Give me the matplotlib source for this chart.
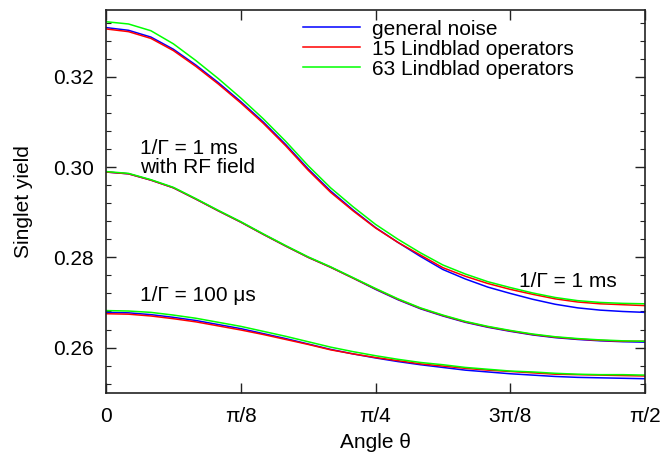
import numpy as np
import matplotlib
matplotlib.use("Agg")
import matplotlib.pyplot as plt

plt.rcParams['font.family'] = ['Liberation Sans', 'DejaVu Sans']

# Angle grid (25 samples from 0 to pi/2)
theta = np.linspace(0, np.pi / 2, 25)

# 1/Gamma = 1 ms
ms1_general = [0.3309, 0.3303, 0.3288, 0.3261, 0.3226, 0.3187, 0.3145, 0.3100, 0.3050,
               0.2996, 0.2947, 0.2905, 0.2866, 0.2833, 0.2802, 0.2773, 0.2752, 0.2734,
               0.2720, 0.2707, 0.2696, 0.2688, 0.2683, 0.2680, 0.2678]
ms1_lind15 = [0.3306, 0.3300, 0.3285, 0.3258, 0.3223, 0.3184, 0.3142, 0.3097, 0.3047,
              0.2993, 0.2944, 0.2903, 0.2865, 0.2833, 0.2805, 0.2777, 0.2758, 0.2742,
              0.2729, 0.2718, 0.2708, 0.2701, 0.2697, 0.2695, 0.2693]
ms1_lind63 = [0.3322, 0.3317, 0.3302, 0.3273, 0.3236, 0.3196, 0.3153, 0.3107, 0.3057,
              0.3003, 0.2954, 0.2912, 0.2873, 0.2840, 0.2810, 0.2783, 0.2763, 0.2746,
              0.2733, 0.2721, 0.2711, 0.2704, 0.2700, 0.2698, 0.2697]

# 1/Gamma = 1 ms with RF field
rf_general = [0.2989, 0.2985, 0.2971, 0.2954, 0.2929, 0.2903, 0.2878, 0.2851, 0.2825,
              0.2800, 0.2778, 0.2754, 0.2729, 0.2706, 0.2686, 0.2670, 0.2656, 0.2645,
              0.2636, 0.2628, 0.2622, 0.2618, 0.2615, 0.2613, 0.2612]
rf_lind15 = [0.2989, 0.2985, 0.2971, 0.2954, 0.2929, 0.2903, 0.2878, 0.2851, 0.2825,
             0.2800, 0.2778, 0.2754, 0.2730, 0.2707, 0.2687, 0.2671, 0.2657, 0.2646,
             0.2637, 0.2629, 0.2623, 0.2619, 0.2616, 0.2614, 0.2614]
rf_lind63 = [0.2990, 0.2986, 0.2972, 0.2955, 0.2930, 0.2904, 0.2879, 0.2852, 0.2826,
             0.2801, 0.2779, 0.2755, 0.2731, 0.2708, 0.2688, 0.2672, 0.2658, 0.2647,
             0.2638, 0.2630, 0.2624, 0.2620, 0.2617, 0.2615, 0.2614]

# 1/Gamma = 100 us
us100_general = [0.2678, 0.2677, 0.2673, 0.2667, 0.2660, 0.2651, 0.2642, 0.2631, 0.2620,
                 0.2608, 0.2596, 0.2586, 0.2577, 0.2569, 0.2562, 0.2556, 0.2550, 0.2546,
                 0.2542, 0.2539, 0.2536, 0.2534, 0.2533, 0.2532, 0.2531]
us100_lind15 = [0.2675, 0.2674, 0.2670, 0.2664, 0.2657, 0.2648, 0.2639, 0.2629, 0.2618,
                0.2607, 0.2595, 0.2586, 0.2578, 0.2571, 0.2564, 0.2559, 0.2554, 0.2550,
                0.2547, 0.2544, 0.2541, 0.2540, 0.2539, 0.2538, 0.2537]
us100_lind63 = [0.2682, 0.2681, 0.2678, 0.2672, 0.2665, 0.2656, 0.2647, 0.2636, 0.2625,
                0.2613, 0.2601, 0.2591, 0.2582, 0.2574, 0.2567, 0.2562, 0.2556, 0.2552,
                0.2548, 0.2546, 0.2543, 0.2541, 0.2540, 0.2540, 0.2539]

series_labels = ['general noise', '15 Lindblad operators', '63 Lindblad operators']
series_colors = ['#0000ff', '#ff0000', '#00ff00']

x_ticks = [0, np.pi / 8, np.pi / 4, 3 * np.pi / 8, np.pi / 2]
x_tick_labels = ['0', 'π/8', 'π/4', '3π/8', 'π/2']
y_ticks = [0.26, 0.28, 0.30, 0.32]
y_tick_labels = ['0.26', '0.28', '0.30', '0.32']

FS = 15

fig = plt.figure(figsize=(6.61, 4.54), dpi=100)
ax = fig.add_axes([0.1604, 0.135, 0.8154, 0.843])

groups = [
    (ms1_general, ms1_lind15, ms1_lind63),
    (rf_general, rf_lind15, rf_lind63),
    (us100_general, us100_lind15, us100_lind63),
]
for gi, group in enumerate(groups):
    for yv, col, lab in zip(group, series_colors, series_labels):
        ax.plot(theta, yv, color=col, lw=1.1, label=lab if gi == 0 else None)

ax.set_xlim(0, np.pi / 2)
ax.set_ylim(0.25, 0.3348)
ax.set_xticks(x_ticks)
ax.set_xticklabels(x_tick_labels)
ax.set_yticks(y_ticks)
ax.set_yticklabels(y_tick_labels)
ax.set_yticks(np.arange(0.252, 0.335, 0.004), minor=True)

ax.tick_params(axis='both', which='major', direction='in', length=7, width=1.0,
               top=True, right=True, labelsize=FS, pad=9, colors='#222222',
               labelcolor='black')
ax.tick_params(axis='y', which='minor', direction='in', length=3.5, width=0.8,
               left=True, right=True, colors='#222222')
ax.tick_params(axis='x', which='major', pad=10)
for sp in ax.spines.values():
    sp.set_linewidth(1.2)
    sp.set_color('#222222')

ax.set_xlabel('Angle θ', fontsize=FS, labelpad=5.5)
ax.set_ylabel('Singlet yield', fontsize=FS, labelpad=14)

ax.text(0.100, 0.3021, '1/Γ = 1 ms\nwith RF field', fontsize=FS, ha='left', va='center',
        linespacing=1.0)
ax.text(0.100, 0.2716, '1/Γ = 100 μs', fontsize=FS, ha='left', va='center')
ax.text(1.2035, 0.2747, '1/Γ = 1 ms', fontsize=FS, ha='left', va='center')

ax.legend(loc='upper left', bbox_to_anchor=(0.366, 0.975), frameon=False, fontsize=FS,
          handlelength=2.7, handletextpad=0.62, labelspacing=0.05, borderpad=0.0,
          borderaxespad=0.0)

fig.savefig('out.png', dpi=100)
